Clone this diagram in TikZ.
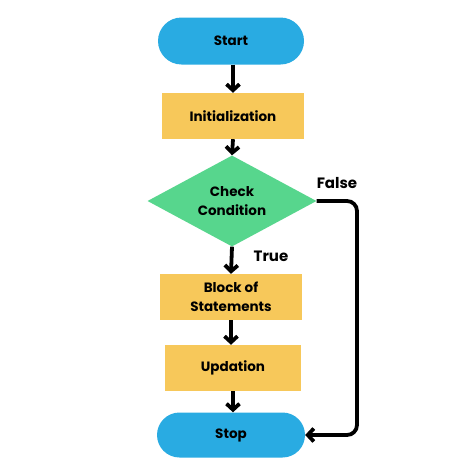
\documentclass[tikz,border=0pt]{standalone}
\usepackage{fontspec}
\setmainfont{Poppins}
\usetikzlibrary{shapes.geometric,shapes.misc,arrows.meta}
\definecolor{cblue}{HTML}{29ABE2}
\definecolor{cyellow}{HTML}{F7C85A}
\definecolor{cgreen}{HTML}{57D68D}
\tikzset{
  txt/.style={font=\bfseries\fontsize{13.5}{19}\selectfont},
  term/.style={txt,draw=none,fill=cblue,rounded rectangle,minimum width=146pt,minimum height=47pt,inner sep=0pt},
  proc/.style={txt,draw=none,fill=cyellow,minimum width=142pt,minimum height=46pt,align=center,inner sep=0pt},
  dec/.style={txt,draw=none,fill=cgreen,diamond,aspect=1.86,minimum width=169pt,minimum height=91pt,align=center,inner sep=0pt},
  conn/.style={line width=3.8pt,-{Straight Barb[length=6pt,width=13pt,line width=3.8pt]}},
  lbl/.style={font=\bfseries\fontsize{15}{18}\selectfont}
}
\begin{document}
\begin{tikzpicture}[x=1pt,y=-1pt]
\useasboundingbox (0,0) rectangle (474,474);
\fill[white] (0,0) rectangle (474,474);
\node[term] (start) at (231,41) {Start};
\node[proc] (init) at (233,116) {Initialization};
\node[dec] (cond) at (232,201) {Check\\Condition};
\node[proc] (block) at (231,297) {Block of\\Statements};
\node[proc,minimum width=136pt] (upd) at (233,368) {Updation};
\node[term,minimum width=148pt,minimum height=45pt] (stop) at (231,435) {Stop};
\draw[conn] (start.south -| 233,0) -- (init.north);
\draw[conn] (init.south) -- (cond.north);
\draw[conn] (cond.south) -- (block.north);
\draw[conn] (block.south) -- (block.south |- upd.north);
\draw[conn] (upd.south) -- (upd.south |- stop.north);
\coordinate (corner1) at (357,201);
\draw[conn,rounded corners=10pt] (cond.east) -- (corner1) -- (corner1 |- stop.east) -- (stop.east);
\node[lbl] (false) at (337,183) {False};
\node[lbl] (true) at (271,256) {True};
\end{tikzpicture}
\end{document}
